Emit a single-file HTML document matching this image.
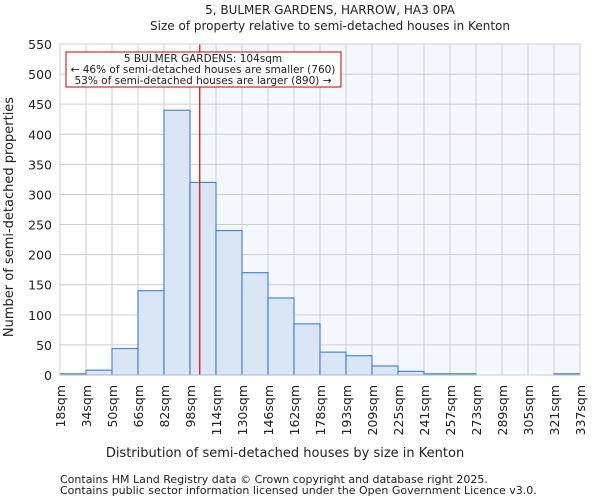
<!DOCTYPE html>
<html><head><meta charset="utf-8"><style>
body{margin:0;background:#fff;font-family:"DejaVu Sans","Liberation Sans",sans-serif;}
svg text{font-family:"DejaVu Sans","Liberation Sans",sans-serif;fill:#222;}
</style></head><body>
<svg id="chart" width="600" height="500">
<text x="330" y="14" font-size="12" text-anchor="middle">5, BULMER GARDENS, HARROW, HA3 0PA</text>
<text x="330" y="30" font-size="12" text-anchor="middle">Size of property relative to semi-detached houses in Kenton</text>
<g id="plot"></g>
<text x="285" y="457" font-size="13" text-anchor="middle">Distribution of semi-detached houses by size in Kenton</text>
<text transform="translate(13,217) rotate(-90)" font-size="13" text-anchor="middle">Number of semi-detached properties</text>
<text x="60" y="483" font-size="11">Contains HM Land Registry data © Crown copyright and database right 2025.</text>
<text x="60" y="494" font-size="11">Contains public sector information licensed under the Open Government Licence v3.0.</text>
</svg>
<script>
const categories=["18sqm","34sqm","50sqm","66sqm","82sqm","98sqm","114sqm","130sqm","146sqm","162sqm","178sqm","193sqm","209sqm","225sqm","241sqm","257sqm","273sqm","289sqm","305sqm","321sqm","337sqm"];
const values=[2,8,44,140,440,320,240,170,128,85,38,32,15,6,2,2,0,0,0,2];
const yTicks=[0,50,100,150,200,250,300,350,400,450,500,550];
const propertyBin=5.375;
const X0=60,X1=580,Y0=375,Y1=44,YMAX=550;
const bw=(X1-X0)/values.length;
const xs=i=>X0+i*bw;
const ys=v=>Y0-(v/YMAX)*(Y0-Y1);
const NS="http://www.w3.org/2000/svg";
const g=document.getElementById('plot');
function mk(t,a){const e=document.createElementNS(NS,t);for(const k in a)e.setAttribute(k,a[k]);g.appendChild(e);return e;}
let e;
e=mk('rect',{x:xs(propertyBin),y:Y1,width:X1-xs(propertyBin),height:Y0-Y1,fill:'#f4f7fe'});


for(let i=0;i<=values.length;i++){e=mk('line',{x1:xs(i),x2:xs(i),y1:Y1,y2:Y0,stroke:'#cccccc'});

}
yTicks.forEach(t=>{e=mk('line',{x1:X0,x2:X1,y1:ys(t),y2:ys(t),stroke:'#cccccc'});


e=mk('text',{x:X0-8,y:ys(t)+5,'font-size':12.5,'text-anchor':'end'});e.textContent=t;

});
values.forEach((v,i)=>{e=mk('rect',{x:xs(i),y:ys(v),width:bw,height:Y0-ys(v),fill:'#dae5f5',stroke:'#4a86d0','stroke-width':1.2});

});
categories.forEach((c,i)=>{e=mk('text',{transform:`translate(${xs(i)+5},385) rotate(-90)`,'font-size':12.5,'text-anchor':'end'});e.textContent=c;

});
e=mk('line',{x1:xs(propertyBin),x2:xs(propertyBin),y1:Y1,y2:Y0,stroke:'#dd0000','stroke-width':1.2});


e=mk('rect',{x:66,y:52,width:275,height:35,fill:'#fff',stroke:'#cc0000'});


["5 BULMER GARDENS: 104sqm","← 46% of semi-detached houses are smaller (760)","53% of semi-detached houses are larger (890) →"].forEach((s,k)=>{
e=mk('text',{x:203,y:62+k*11,'font-size':10.5,'text-anchor':'middle'});e.textContent=s;

});
e=mk('rect',{x:X0,y:Y1,width:X1-X0,height:Y0-Y1,fill:'none',stroke:'#cccccc'});


</script>
</body></html>
